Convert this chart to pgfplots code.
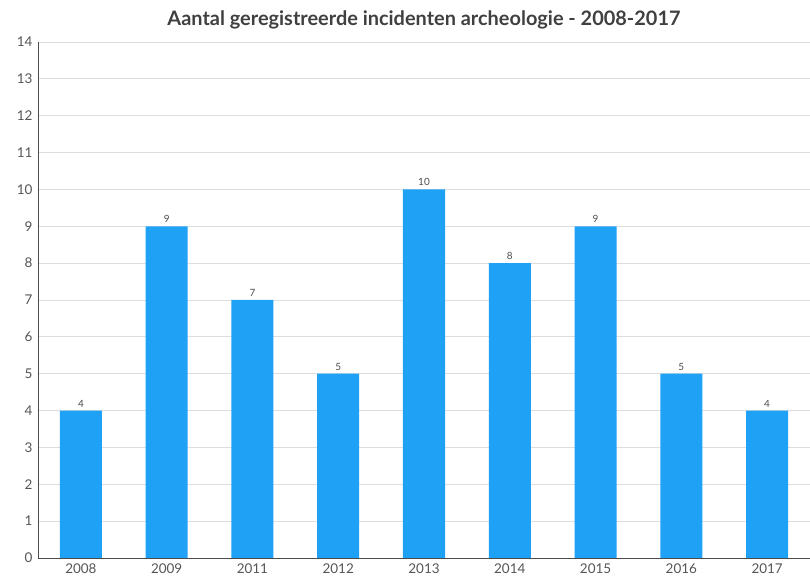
\documentclass[border=0pt]{standalone}
\usepackage{pgfplots}
\pgfplotsset{compat=1.18}
\usepackage{fontspec}
\setmainfont{Lato}
\definecolor{barblue}{HTML}{1FA2F6}
\definecolor{ticktext}{HTML}{555555}
\definecolor{gridgray}{HTML}{DDDDDD}
\begin{document}
\begin{tikzpicture}
\begin{axis}[
  scale only axis,
  width=772bp, height=516bp,
  xmin=-0.5, xmax=8.5,
  ymin=0, ymax=14,
  ytick={0,1,...,14},
  xtick={0,...,8},
  xticklabels={2008,2009,2011,2012,2013,2014,2015,2016,2017},
  ymajorgrids,
  grid style={gridgray, line width=0.8pt},
  axis x line*=bottom,
  axis y line*=left,
  axis line style={draw=black!70, line width=1pt},
  x axis line style={-},
  y axis line style={-},
  major tick length=0pt,
  tick style={draw=none},
  ticklabel style={font=\fontsize{13.5}{15}\selectfont, text=ticktext},
  /pgf/number format/assume math mode=true,
  xticklabel style={yshift=-2bp},
  yticklabel style={xshift=-2bp},
  title={\bfseries Aantal geregistreerde incidenten archeologie - 2008-2017},
  title style={font=\fontsize{20}{22}\selectfont, text=black!75, yshift=3bp},
]
\addplot[ybar, bar width=0.49, fill=barblue, draw=none, bar shift=0pt,
  nodes near coords,
  nodes near coords style={font=\fontsize{10}{12}\selectfont, text=black!70, yshift=0bp}]
  coordinates {(0,4) (1,9) (2,7) (3,5) (4,10) (5,8) (6,9) (7,5) (8,4)};
\end{axis}
\pgfresetboundingbox
\path (current axis.south west) ++(-38bp,-25bp) coordinate (a);
\path (current axis.north east) ++(0,42bp) coordinate (b);
\path[use as bounding box] (a) rectangle (b);
\end{tikzpicture}
\end{document}
